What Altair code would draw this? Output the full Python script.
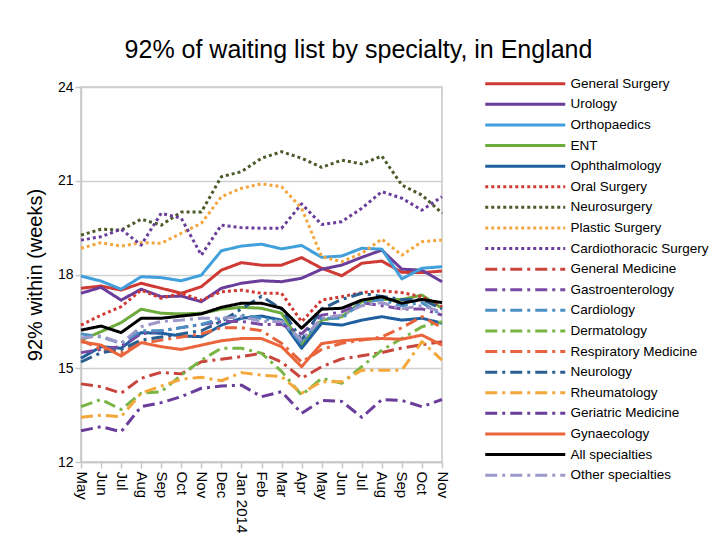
import altair as alt
import pandas as pd
import json

months = ["May", "Jun", "Jul", "Aug", "Sep", "Oct", "Nov", "Dec", "Jan 2014", "Feb",
          "Mar", "Apr", "May", "Jun", "Jul", "Aug", "Sep", "Oct", "Nov"]

series_names = [
    "General Surgery", "Urology", "Orthopaedics", "ENT", "Ophthalmology",
    "Oral Surgery", "Neurosurgery", "Plastic Surgery", "Cardiothoracic Surgery",
    "General Medicine", "Gastroenterology", "Cardiology", "Dermatology",
    "Respiratory Medicine", "Neurology", "Rheumatology", "Geriatric Medicine",
    "Gynaecology", "All specialties", "Other specialties",
]

general_surgery = [17.56, 17.63, 17.5, 17.72, 17.56, 17.4, 17.61, 18.14, 18.38, 18.3, 18.3, 18.54, 18.2, 17.96, 18.36, 18.43, 18.07, 18.06, 18.11]
urology = [17.4, 17.59, 17.18, 17.53, 17.29, 17.31, 17.13, 17.56, 17.72, 17.8, 17.77, 17.88, 18.17, 18.3, 18.55, 18.78, 18.17, 18.14, 17.77]
orthopaedics = [17.95, 17.79, 17.53, 17.93, 17.9, 17.8, 17.98, 18.76, 18.91, 18.97, 18.82, 18.93, 18.55, 18.59, 18.84, 18.81, 17.86, 18.2, 18.25]
ent = [15.9, 16.17, 16.46, 16.89, 16.76, 16.74, 16.76, 16.89, 16.95, 16.92, 16.76, 15.74, 16.54, 16.65, 17.13, 17.2, 17.2, 17.34, 16.92]
ophthalmology = [15.32, 15.69, 15.64, 16.14, 16.12, 16.03, 16.01, 16.38, 16.6, 16.67, 16.54, 15.64, 16.44, 16.38, 16.54, 16.65, 16.54, 16.6, 16.44]
oral_surgery = [16.38, 16.7, 16.97, 17.5, 17.24, 17.4, 17.18, 17.45, 17.5, 17.4, 17.4, 16.49, 17.18, 17.29, 17.42, 17.48, 17.42, 17.29, 16.97]
neurosurgery = [19.26, 19.45, 19.42, 19.77, 19.58, 20.0, 20.0, 21.13, 21.29, 21.72, 21.93, 21.72, 21.43, 21.66, 21.54, 21.79, 20.86, 20.54, 19.96]
plastic_surgery = [18.84, 19.02, 18.91, 19.02, 19.0, 19.32, 19.64, 20.49, 20.76, 20.9, 20.81, 20.12, 18.57, 18.41, 18.68, 19.13, 18.62, 19.05, 19.1]
cardiothoracic = [19.1, 19.21, 19.45, 18.94, 19.96, 19.8, 18.62, 19.58, 19.5, 19.48, 19.48, 20.26, 19.6, 19.69, 20.12, 20.65, 20.44, 20.06, 20.49]
general_medicine = [14.5, 14.41, 14.2, 14.68, 14.87, 14.82, 15.21, 15.29, 15.37, 15.48, 15.2, 14.68, 15.05, 15.3, 15.4, 15.5, 15.65, 15.75, 15.85]
gastroenterology = [15.5, 15.6, 15.7, 16.1, 16.2, 16.3, 16.4, 16.5, 16.5, 16.4, 16.4, 16.1, 16.7, 16.8, 17.1, 17.0, 16.9, 16.9, 16.7]
cardiology = [16.1, 16.0, 15.8, 16.2, 16.2, 16.3, 16.4, 16.6, 16.7, 16.6, 16.5, 15.8, 16.6, 16.6, 17.1, 17.2, 17.0, 17.1, 16.7]
dermatology = [13.77, 14.0, 13.68, 14.2, 14.25, 14.78, 15.26, 15.64, 15.64, 15.48, 14.9, 14.14, 14.68, 14.52, 15.05, 15.58, 15.95, 16.33, 16.49]
respiratory = [15.9, 15.6, 15.5, 15.8, 15.9, 16.0, 16.1, 16.3, 16.3, 16.2, 15.8, 15.2, 15.6, 15.8, 15.9, 16.0, 16.3, 16.65, 16.3]
neurology = [15.2, 15.5, 15.6, 15.9, 16.0, 16.1, 16.2, 16.5, 16.9, 17.3, 16.9, 15.9, 16.9, 17.2, 17.4, 17.3, 17.2, 17.2, 16.9]
rheumatology = [13.43, 13.5, 13.45, 14.2, 14.43, 14.65, 14.71, 14.6, 14.86, 14.78, 14.73, 14.2, 14.57, 14.57, 14.94, 14.94, 14.94, 15.85, 15.26]
geriatric = [13.0, 13.13, 12.97, 13.77, 13.9, 14.09, 14.36, 14.43, 14.46, 14.09, 14.25, 13.56, 13.97, 13.94, 13.43, 14.0, 13.97, 13.77, 14.0]
gynaecology = [15.85, 15.74, 15.39, 15.82, 15.69, 15.6, 15.74, 15.88, 15.95, 15.95, 15.69, 15.05, 15.79, 15.88, 15.93, 15.95, 15.93, 16.06, 15.74]
all_specialties = [16.22, 16.35, 16.14, 16.6, 16.6, 16.67, 16.74, 16.95, 17.08, 17.08, 16.92, 16.28, 16.89, 16.92, 17.18, 17.29, 17.08, 17.2, 17.1]
other_specialties = [15.97, 16.03, 15.8, 16.33, 16.5, 16.54, 16.6, 16.6, 16.65, 16.5, 16.5, 15.9, 16.6, 16.7, 17.0, 17.1, 16.9, 17.0, 16.8]

series_values = [
    general_surgery, urology, orthopaedics, ent, ophthalmology, oral_surgery,
    neurosurgery, plastic_surgery, cardiothoracic, general_medicine,
    gastroenterology, cardiology, dermatology, respiratory, neurology,
    rheumatology, geriatric, gynaecology, all_specialties, other_specialties,
]

colors = [
    "#d03a34", "#6a3d9a", "#41a0db", "#6cab3c", "#1f5f9f",
    "#d03a34", "#4b5a29", "#f3a63e", "#6a3d9a",
    "#c8453c", "#7a4aa5", "#4a90c2", "#78b545",
    "#e8643c", "#2a5f90", "#f4a83a", "#6a3d9a",
    "#ea653b", "#000000", "#9c98c9",
]

SOLID = [1, 0]
DOT = [3, 3]
DASHDOT = [12, 5, 3, 5]
dashes = [
    SOLID, SOLID, SOLID, SOLID, SOLID,
    DOT, DOT, DOT, DOT,
    DASHDOT, DASHDOT, DASHDOT, DASHDOT, DASHDOT, DASHDOT, DASHDOT, DASHDOT,
    SOLID, SOLID, DASHDOT,
]

rows = []
for name, vals in zip(series_names, series_values):
    for i, v in enumerate(vals):
        rows.append({"series": name, "idx": i, "value": v})
df = pd.DataFrame(rows)

label_expr = json.dumps(months) + "[datum.value]"

legend = alt.Legend(
    title=None,
    orient="none",
    legendX=404,
    legendY=-10,
    symbolType="M-1.3,0H14.7",
    symbolSize=100,
    symbolStrokeWidth=3,
    labelFontSize=13.5,
    labelFont="Liberation Sans",
    labelColor="#000000",
    labelOffset=72,
    labelLimit=0,
    rowPadding=5.6,
)

chart = (
    alt.Chart(df)
    .mark_line(strokeWidth=3, strokeCap="butt", strokeJoin="round")
    .encode(
        x=alt.X(
            "idx:Q",
            scale=alt.Scale(domain=[0, 18], nice=False, zero=False),
            axis=alt.Axis(
                title=None,
                values=list(range(len(months))),
                labelExpr=label_expr,
                labelAngle=90,
                labelAlign="left",
                labelBaseline="middle",
                labelFontSize=15,
                labelPadding=3,
                tickSize=6,
                grid=False,
                labelOverlap=False,
            ),
        ),
        y=alt.Y(
            "value:Q",
            scale=alt.Scale(domain=[12, 24], nice=False, zero=False),
            axis=alt.Axis(
                title="92% within (weeks)",
                values=[12, 15, 18, 21, 24],
                labelFontSize=14,
                titleFontSize=20,
                titleFontWeight="normal",
                titlePadding=12,
                tickSize=6,
                grid=True,
            ),
        ),
        color=alt.Color(
            "series:N",
            scale=alt.Scale(domain=series_names, range=colors),
            sort=series_names,
            legend=legend,
        ),
        strokeDash=alt.StrokeDash(
            "series:N",
            scale=alt.Scale(domain=series_names, range=dashes),
            sort=series_names,
            legend=legend,
        ),
        order=alt.Order("idx:Q"),
    )
    .properties(
        width=361,
        height=375,
        autosize=alt.AutoSizeParams(type="none"),
        padding={"left": 73, "top": 79, "right": 268, "bottom": 78},
        title=alt.Title(
            "92% of waiting list by specialty, in England",
            fontSize=25,
            fontWeight="normal",
            font="Liberation Sans",
            color="#000000",
            anchor="middle",
            frame="group",
            dx=97,
            offset=14,
        ),
    )
    .configure(font="Liberation Sans")
    .configure_axis(
        domainColor="#c8c8c8",
        domainWidth=1.5,
        tickColor="#c8c8c8",
        tickWidth=1.5,
        gridColor="#d0d0d0",
        gridWidth=1.5,
        labelColor="#000000",
        titleColor="#000000",
        labelFont="Liberation Sans",
        titleFont="Liberation Sans",
    )
    .configure_view(stroke="#c8c8c8", strokeWidth=1.5)
)

chart.save("out.html", embed_options={"renderer": "svg", "actions": False})
